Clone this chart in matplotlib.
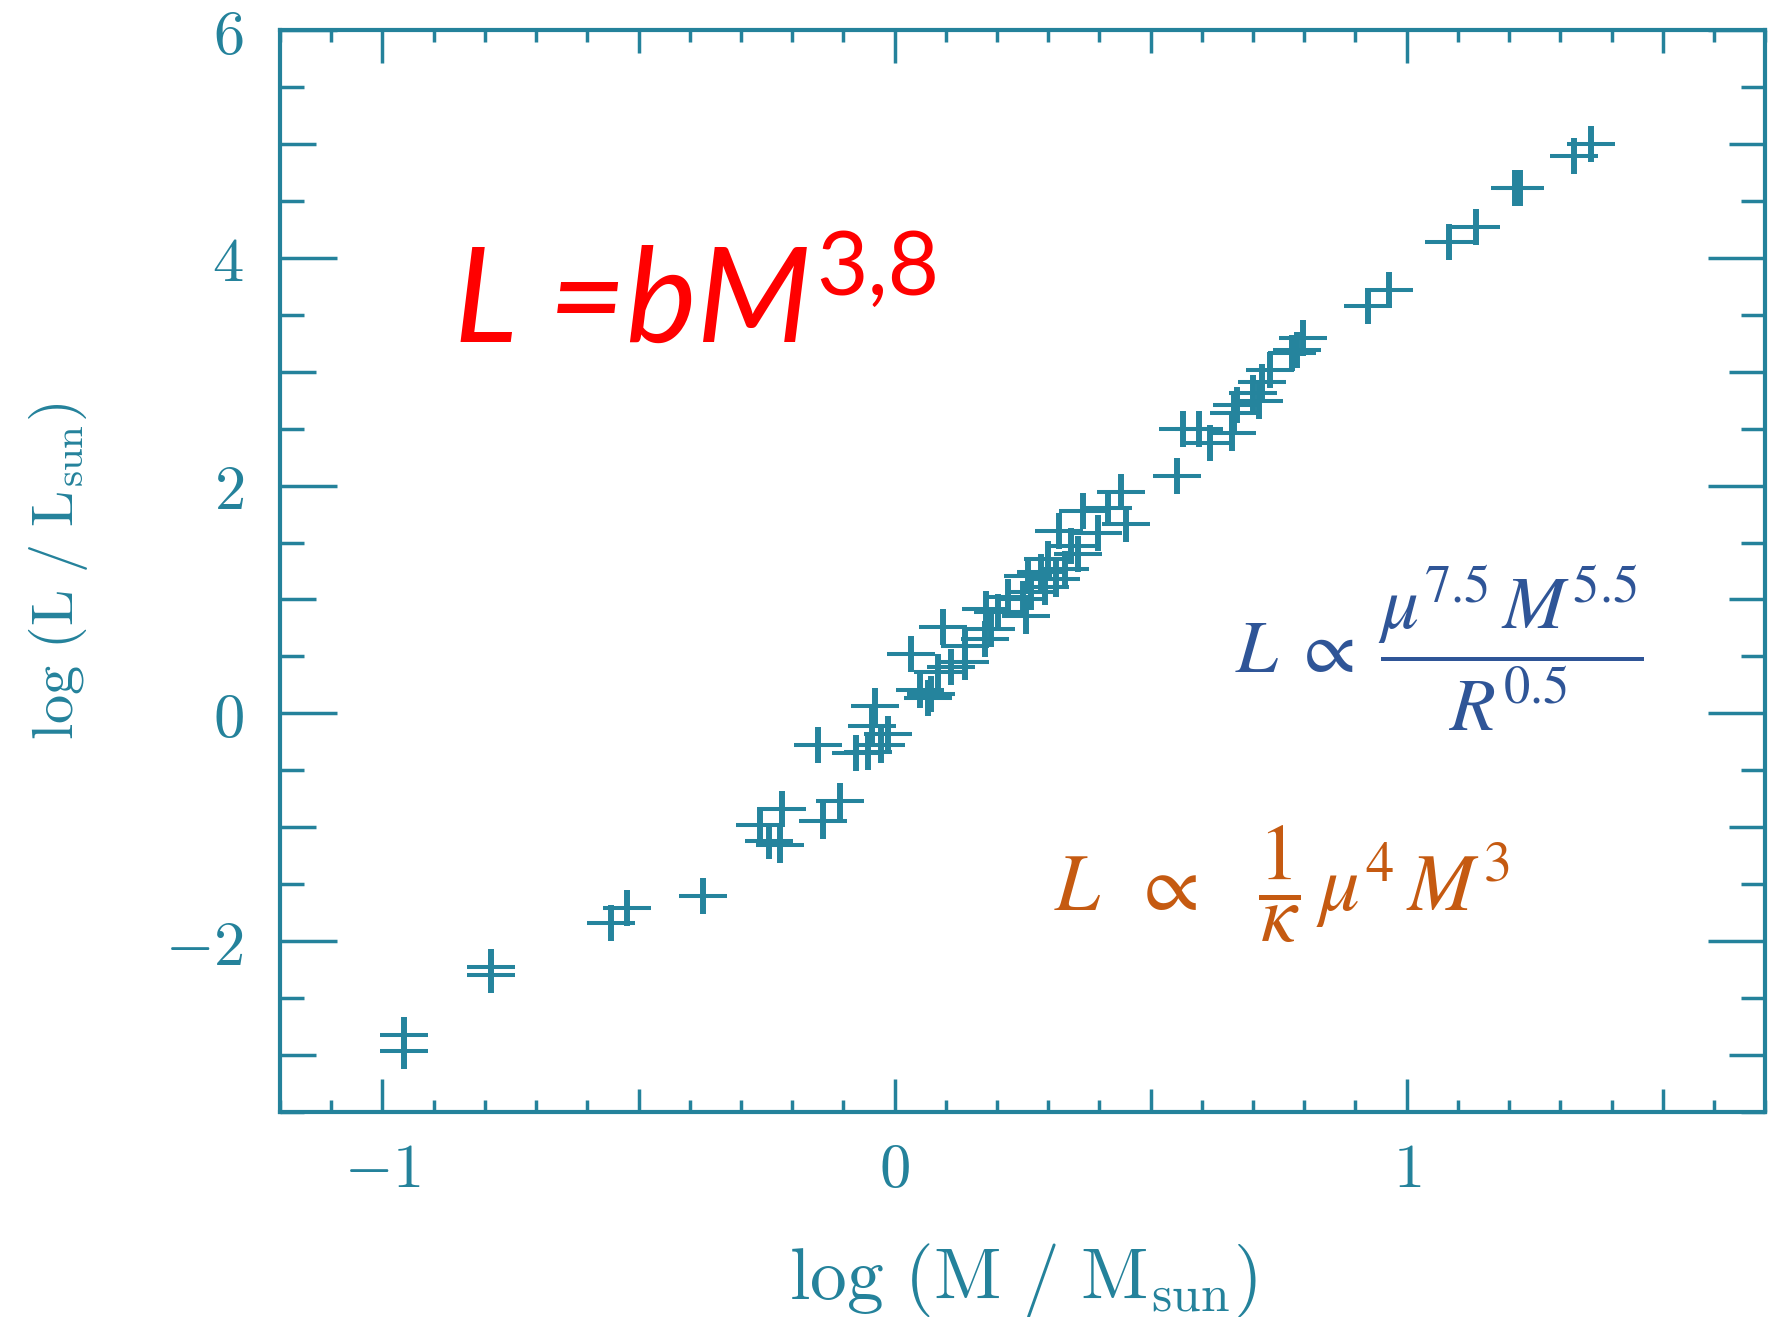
"""Mass-luminosity relation: log L vs log M with the theoretical scalings."""

import matplotlib
matplotlib.use("Agg")
import matplotlib.pyplot as plt
import matplotlib.ticker as ticker

# ---------------------------------------------------------------------------
# Data
# ---------------------------------------------------------------------------

log_mass = [
    -0.958, -0.958, -0.788, -0.788, -0.554, -0.523, -0.374,
    -0.263, -0.246, -0.224, -0.220, -0.140, -0.107,
    -0.150, -0.076, -0.051, -0.026, -0.012, -0.045, -0.038,
    0.033, 0.049, 0.065, 0.072, 0.085, 0.111, 0.137, 0.137, 0.095,
    0.176, 0.189, 0.179, 0.202, 0.221, 0.251, 0.257, 0.267, 0.293, 0.260,
    0.286, 0.316, 0.332, 0.299, 0.358, 0.345, 0.322, 0.397, 0.368, 0.416,
    0.442, 0.452,
    0.551, 0.563, 0.595, 0.615, 0.659, 0.663, 0.668, 0.700, 0.712, 0.717,
    0.733, 0.776, 0.785, 0.797,
    0.924, 0.966, 1.082, 1.136, 1.211, 1.222, 1.327, 1.359,
]
log_lum = [
    -2.823, -2.962, -2.228, -2.298, -1.843, -1.712, -1.607,
    -0.978, -1.124, -1.153, -0.838, -0.943, -0.768,
    -0.279, -0.345, -0.336, -0.279, -0.177, -0.113, 0.062,
    0.517, 0.202, 0.135, 0.167, 0.363, 0.406, 0.450, 0.595, 0.761,
    0.654, 0.741, 0.917, 0.888, 1.018, 1.003, 0.857, 1.062, 1.106, 1.207,
    1.237, 1.178, 1.266, 1.353, 1.397, 1.469, 1.601, 1.587, 1.776, 1.805,
    1.942, 1.659,
    2.081, 2.501, 2.501, 2.373, 2.466, 2.641, 2.711, 2.816, 2.746, 2.912,
    3.017, 3.160, 3.189, 3.296,
    3.573, 3.713, 4.136, 4.273, 4.614, 4.614, 4.896, 5.001,
]

x_ticks = [-1, -0.5, 0, 0.5, 1, 1.5]
x_labelled = [-1, 0, 1]
y_ticks = [-3, -2, -1, 0, 1, 2, 3, 4, 5, 6]
y_labelled = [-2, 0, 2, 4, 6]

TEAL = "#24829b"
MARK = "#25849d"
BLUE = "#2f5597"
ORANGE = "#c55a11"


def label_only(labelled):
    def fmt(v, pos):
        if any(abs(v - l) < 1e-9 for l in labelled):
            return f"${v:.0f}$"
        return ""
    return ticker.FuncFormatter(fmt)


plt.rcParams.update({"mathtext.fontset": "cm"})

fig = plt.figure(figsize=(17.68, 13.17), dpi=100)
ax = fig.add_axes([0.1584, 0.1557, 0.840, 0.8215])

# crosses: wide thin horizontal bar + short thick vertical bar
ax.plot(log_mass, log_lum, ls="none", marker="_", ms=35, mew=2.9, color=MARK)
ax.plot(log_mass, log_lum, ls="none", marker="|", ms=26, mew=4.3, color=MARK)

ax.set_xlim(-1.2, 1.7)
ax.set_ylim(-3.5, 6)

for sp in ax.spines.values():
    sp.set_color(TEAL)
    sp.set_linewidth(3)

ax.xaxis.set_major_locator(ticker.FixedLocator(x_ticks))
ax.xaxis.set_minor_locator(ticker.MultipleLocator(0.1))
ax.xaxis.set_major_formatter(label_only(x_labelled))
ax.yaxis.set_major_locator(ticker.FixedLocator(y_ticks))
ax.yaxis.set_minor_locator(ticker.MultipleLocator(0.5))
ax.yaxis.set_major_formatter(label_only(y_labelled))

ax.tick_params(axis="both", which="both", direction="in", top=True, right=True,
               color=TEAL, width=2.5, labelcolor=TEAL, labelsize=45)
ax.tick_params(axis="x", which="major", length=24, pad=20)
ax.tick_params(axis="x", which="minor", length=8.6)
ax.tick_params(axis="y", which="major", length=41, pad=26)
ax.tick_params(axis="y", which="minor", length=17.6)

# middle-length ticks for the unlabelled major positions
for loc, tick in zip(x_ticks, ax.xaxis.get_major_ticks(len(x_ticks))):
    if loc not in x_labelled:
        tick.tick1line.set_markersize(16.5)
        tick.tick2line.set_markersize(16.5)
for loc, tick in zip(y_ticks, ax.yaxis.get_major_ticks(len(y_ticks))):
    if loc not in y_labelled:
        tick.tick1line.set_markersize(26)
        tick.tick2line.set_markersize(26)

ax.set_xlabel(r"$\mathrm{log\ (M\ /\ M_{sun})}$", fontsize=53, color=TEAL,
              labelpad=30)
ax.set_ylabel(r"$\mathrm{log\ (L\ /\ L_{sun})}$", fontsize=42, color=TEAL,
              labelpad=54)

# annotations laid over the chart
t = fig.text(0.257, 0.7405, "L =bM", family="Lato", style="italic",
             fontsize=96, color="red", va="baseline")
ax.annotate("3,8", xy=(1.0, 0.776), xycoords=(t, "figure fraction"),
            xytext=(4, 0), textcoords="offset pixels",
            family="Lato", fontsize=64, color="red", va="baseline", ha="left",
            annotation_clip=False)

fig.text(0.6985, 0.489,
         r"$L\;\propto\;\dfrac{\mu^{7.5}\,M^{5.5}}{R^{0.5}}$",
         math_fontfamily="stix", fontsize=54, color=BLUE, va="baseline")
fig.text(0.596, 0.3083,
         r"$L\;\;\propto\;\;\;\dfrac{1}{\kappa}\,\mu^{4}\,M^{3}$",
         math_fontfamily="stix", fontsize=58, color=ORANGE, va="baseline")

fig.savefig("out.png", dpi=100)
